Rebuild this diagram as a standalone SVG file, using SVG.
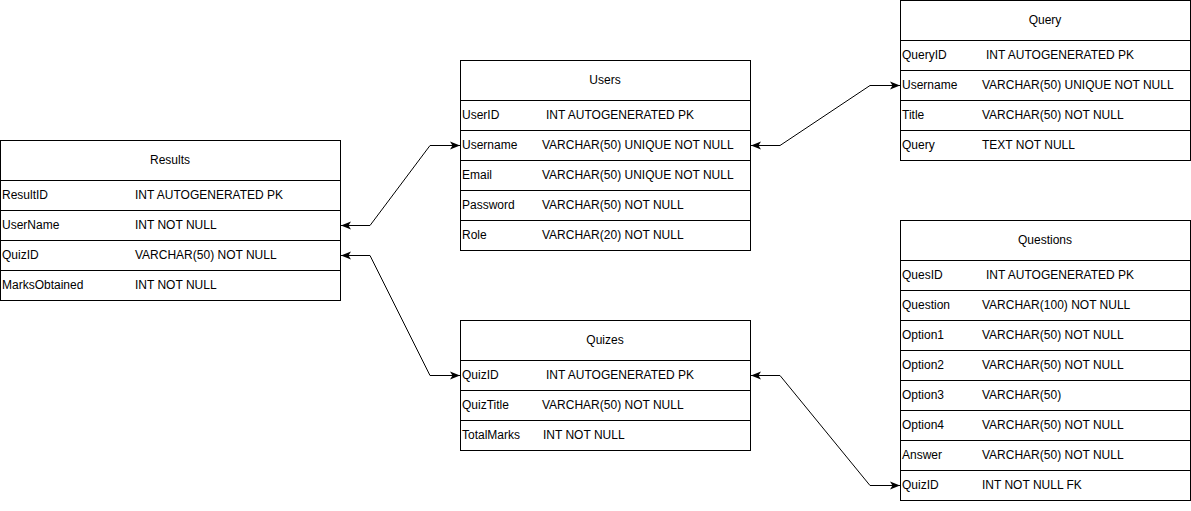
<svg xmlns="http://www.w3.org/2000/svg" width="1191" height="511" viewBox="0 0 1191 511">
<style>
rect{fill:#fff;stroke:#000;stroke-width:1}
line.r{stroke:#000;stroke-width:1}
text{font-family:"Liberation Sans",Arial,sans-serif;font-size:12px;fill:#000}
.h{text-anchor:middle}
.c{fill:none;stroke:#000;stroke-width:1}
</style>
<defs>
<marker id="a" viewBox="0 0 10 10" refX="10" refY="5" markerWidth="10" markerHeight="10" markerUnits="userSpaceOnUse" orient="auto-start-reverse">
<path d="M0,1 L10,5 L0,9 L2.5,5 Z" fill="#000"/>
</marker>
</defs>
<rect x="0" y="0" width="1191" height="511" style="stroke:none"/>
<g id="results">
<rect x="0.5" y="140.5" width="340" height="160"/>
<line class="r" x1="0.5" y1="180.5" x2="340.5" y2="180.5"/>
<line class="r" x1="0.5" y1="210.5" x2="340.5" y2="210.5"/>
<line class="r" x1="0.5" y1="240.5" x2="340.5" y2="240.5"/>
<line class="r" x1="0.5" y1="270.5" x2="340.5" y2="270.5"/>
<text class="h" x="170" y="164">Results</text>
<text x="2" y="199">ResultID</text><text x="135" y="199">INT AUTOGENERATED PK</text>
<text x="2" y="229">UserName</text><text x="135" y="229">INT NOT NULL</text>
<text x="2" y="259">QuizID</text><text x="135" y="259">VARCHAR(50) NOT NULL</text>
<text x="2" y="289">MarksObtained</text><text x="135" y="289">INT NOT NULL</text>
</g>
<g id="users">
<rect x="460.5" y="60.5" width="290" height="190"/>
<line class="r" x1="460.5" y1="100.5" x2="750.5" y2="100.5"/>
<line class="r" x1="460.5" y1="130.5" x2="750.5" y2="130.5"/>
<line class="r" x1="460.5" y1="160.5" x2="750.5" y2="160.5"/>
<line class="r" x1="460.5" y1="190.5" x2="750.5" y2="190.5"/>
<line class="r" x1="460.5" y1="220.5" x2="750.5" y2="220.5"/>
<text class="h" x="605" y="84">Users</text>
<text x="462" y="119">UserID</text><text x="546" y="119">INT AUTOGENERATED PK</text>
<text x="462" y="149">Username</text><text x="542" y="149">VARCHAR(50) UNIQUE NOT NULL</text>
<text x="462" y="179">Email</text><text x="542" y="179">VARCHAR(50) UNIQUE NOT NULL</text>
<text x="462" y="209">Password</text><text x="542" y="209">VARCHAR(50) NOT NULL</text>
<text x="462" y="239">Role</text><text x="542" y="239">VARCHAR(20) NOT NULL</text>
</g>
<g id="quizes">
<rect x="460.5" y="320.5" width="290" height="130"/>
<line class="r" x1="460.5" y1="360.5" x2="750.5" y2="360.5"/>
<line class="r" x1="460.5" y1="390.5" x2="750.5" y2="390.5"/>
<line class="r" x1="460.5" y1="420.5" x2="750.5" y2="420.5"/>
<text class="h" x="605" y="344">Quizes</text>
<text x="462" y="379">QuizID</text><text x="546" y="379">INT AUTOGENERATED PK</text>
<text x="462" y="409">QuizTitle</text><text x="542" y="409">VARCHAR(50) NOT NULL</text>
<text x="462" y="439">TotalMarks</text><text x="543" y="439">INT NOT NULL</text>
</g>
<g id="query">
<rect x="900.5" y="0.5" width="290" height="160"/>
<line class="r" x1="900.5" y1="40.5" x2="1190.5" y2="40.5"/>
<line class="r" x1="900.5" y1="70.5" x2="1190.5" y2="70.5"/>
<line class="r" x1="900.5" y1="100.5" x2="1190.5" y2="100.5"/>
<line class="r" x1="900.5" y1="130.5" x2="1190.5" y2="130.5"/>
<text class="h" x="1045" y="24">Query</text>
<text x="902" y="59">QueryID</text><text x="986" y="59">INT AUTOGENERATED PK</text>
<text x="902" y="89">Username</text><text x="982" y="89">VARCHAR(50) UNIQUE NOT NULL</text>
<text x="902" y="119">Title</text><text x="982" y="119">VARCHAR(50) NOT NULL</text>
<text x="902" y="149">Query</text><text x="982" y="149">TEXT NOT NULL</text>
</g>
<g id="questions">
<rect x="900.5" y="220.5" width="290" height="280"/>
<line class="r" x1="900.5" y1="260.5" x2="1190.5" y2="260.5"/>
<line class="r" x1="900.5" y1="290.5" x2="1190.5" y2="290.5"/>
<line class="r" x1="900.5" y1="320.5" x2="1190.5" y2="320.5"/>
<line class="r" x1="900.5" y1="350.5" x2="1190.5" y2="350.5"/>
<line class="r" x1="900.5" y1="380.5" x2="1190.5" y2="380.5"/>
<line class="r" x1="900.5" y1="410.5" x2="1190.5" y2="410.5"/>
<line class="r" x1="900.5" y1="440.5" x2="1190.5" y2="440.5"/>
<line class="r" x1="900.5" y1="470.5" x2="1190.5" y2="470.5"/>
<text class="h" x="1045" y="244">Questions</text>
<text x="902" y="279">QuesID</text><text x="986" y="279">INT AUTOGENERATED PK</text>
<text x="902" y="309">Question</text><text x="982" y="309">VARCHAR(100) NOT NULL</text>
<text x="902" y="339">Option1</text><text x="982" y="339">VARCHAR(50) NOT NULL</text>
<text x="902" y="369">Option2</text><text x="982" y="369">VARCHAR(50) NOT NULL</text>
<text x="902" y="399">Option3</text><text x="982" y="399">VARCHAR(50)</text>
<text x="902" y="429">Option4</text><text x="982" y="429">VARCHAR(50) NOT NULL</text>
<text x="902" y="459">Answer</text><text x="982" y="459">VARCHAR(50) NOT NULL</text>
<text x="902" y="489">QuizID</text><text x="982" y="489">INT NOT NULL FK</text>
</g>
<g id="connectors">
<path class="c" d="M341,225.5 H370 L430,145.5 H460" marker-start="url(#a)" marker-end="url(#a)"/>
<path class="c" d="M341,255.5 H370 L430,375.5 H460" marker-start="url(#a)" marker-end="url(#a)"/>
<path class="c" d="M751,145.5 H780 L870,85.5 H900" marker-start="url(#a)" marker-end="url(#a)"/>
<path class="c" d="M751,375.5 H780 L870,485.5 H900" marker-start="url(#a)" marker-end="url(#a)"/>
</g>
</svg>
